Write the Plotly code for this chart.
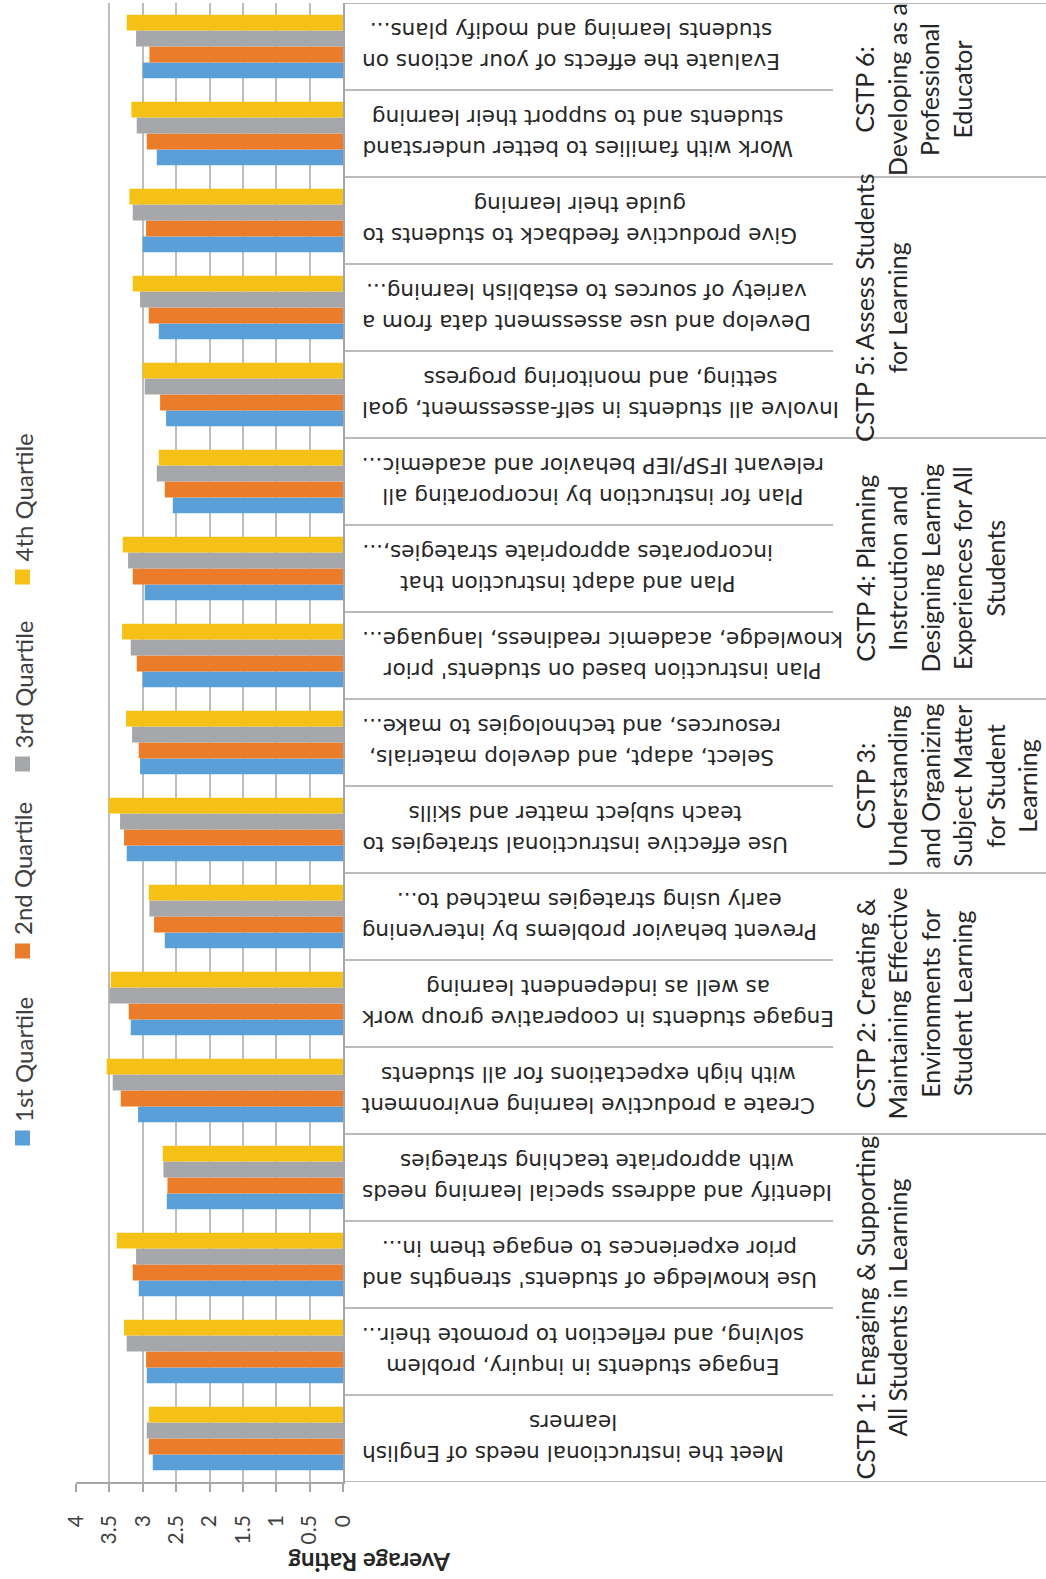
import plotly.graph_objects as go

# Teaching standards survey: average rating per criterion, split by quartile.
# Criteria listed bottom-to-top as they appear along the category axis.
criteria = [
    "Meet the instructional needs of English<br>learners",
    "Engage students in inquiry, problem<br>solving, and reflection to promote their...",
    "Use knowledge of students' strengths and<br>prior experiences to engage them in...",
    "Identify and address special learning needs<br>with appropriate teaching strategies",
    "Create a productive learning environment<br>with high expectations for all students",
    "Engage students in cooperative group work<br>as well as independent learning",
    "Prevent behavior problems by intervening<br>early using strategies matched to...",
    "Use effective instructional strategies to<br>teach subject matter and skills",
    "Select, adapt, and develop materials,<br>resources, and technologies to make...",
    "Plan instruction based on students' prior<br>knowledge, academic readiness, language...",
    "Plan and adapt instruction that<br>incorporates appropriate strategies,...",
    "Plan for instruction by incorporating all<br>relevant IFSP/IEP behavior and academic...",
    "Involve all students in self-assessment, goal<br>setting, and monitoring progress",
    "Develop and use assessment data from a<br>variety of sources to establish learning...",
    "Give productive feedback to students to<br>guide their learning",
    "Work with families to better understand<br>students and to support their learning",
    "Evaluate the effects of your actions on<br>students learning and modify plans...",
]

q1 = [2.85, 2.94, 3.06, 2.64, 3.07, 3.18, 2.67, 3.24, 3.04, 3.00, 2.97, 2.55, 2.65, 2.76, 3.00, 2.79, 3.00]
q2 = [2.91, 2.95, 3.15, 2.63, 3.33, 3.21, 2.83, 3.28, 3.06, 3.09, 3.15, 2.67, 2.74, 2.91, 2.95, 2.94, 2.90]
q3 = [2.94, 3.24, 3.10, 2.69, 3.45, 3.50, 2.90, 3.34, 3.16, 3.18, 3.22, 2.79, 2.97, 3.04, 3.15, 3.09, 3.10]
q4 = [2.91, 3.28, 3.39, 2.70, 3.54, 3.48, 2.91, 3.51, 3.25, 3.31, 3.30, 2.76, 3.00, 3.15, 3.20, 3.17, 3.24]

series_names = ["1st Quartile", "2nd Quartile", "3rd Quartile", "4th Quartile"]
series_colors = ["#5B9FD8", "#EB7D2A", "#A6A7AB", "#F6C116"]

standards = [
    "CSTP 1: Engaging & Supporting<br>All Students in Learning",
    "CSTP 2: Creating &<br>Maintaining Effective<br>Environments for<br>Student Learning",
    "CSTP 3:<br>Understanding<br>and Organizing<br>Subject Matter<br>for Student<br>Learning",
    "CSTP 4: Planning<br>Instrcution and<br>Designing Learning<br>Experiences for All<br>Students",
    "CSTP 5: Assess Students<br>for Learning",
    "CSTP 6:<br>Developing as a<br>Professional<br>Educator",
]
standard_sizes = [4, 3, 2, 3, 3, 2]

tick_vals = [0, 0.5, 1, 1.5, 2, 2.5, 3, 3.5, 4]
tick_text = ["0", "0.5", "1", "1.5", "2", "2.5", "3", "3.5", "4"]

axis_title = "Average Rating"

# ---- page geometry (pixels) ----
W, H = 1046, 1579
PLOT_L, PLOT_R, PLOT_T, PLOT_B = 76, 343, 3, 1482
ROW_TEXT_X = 360          # left edge of the criterion text blocks
ROW_LINE_END = 833        # right end of criterion separators
GROUP_TEXT_X = 847        # left edge of the standard text blocks
LINE_COLOR = "#A6A6A6"
TEXT_COLOR = "#262626"


def fx(p):
    return p / W


def fy(p):
    return 1 - p / H


fig = go.Figure()

for name, vals, color in zip(series_names, [q1, q2, q3, q4], series_colors):
    fig.add_trace(go.Bar(
        y=criteria, x=vals, orientation="h", name=name,
        marker=dict(color=color, line=dict(width=0)),
        showlegend=False, hoverinfo="x+name",
    ))

annotations = []
shapes = []

# criterion labels (upside-down, two centred lines)
for i, lab in enumerate(criteria):
    lines = lab.split("<br>")
    txt = "<br>".join(f"<span style='font-size:21.6px'>{ln}</span>" for ln in lines)
    annotations.append(dict(
        text=txt, x=fx(ROW_TEXT_X), xref="paper", y=i, yref="y",
        xanchor="left", yanchor="middle", textangle=180, align="center",
        showarrow=False, font=dict(family="DejaVu Sans", size=24, color=TEXT_COLOR),
    ))

# separators between criteria and between standards
group_bounds = []
acc = 0
for s in standard_sizes:
    acc += s
    group_bounds.append(acc - 0.5)
for k in range(len(criteria) - 1):
    yb = k + 0.5
    x_end = W if yb in group_bounds else ROW_LINE_END
    shapes.append(dict(type="line", xref="paper", yref="y", x0=fx(PLOT_R), x1=fx(x_end),
                       y0=yb, y1=yb, line=dict(color=LINE_COLOR, width=1.5)))
for yb in (-0.5, len(criteria) - 0.5):
    shapes.append(dict(type="line", xref="paper", yref="y", x0=fx(PLOT_R), x1=1,
                       y0=yb, y1=yb, line=dict(color=LINE_COLOR, width=1.5)))

# standard labels (rotated, centred on their block of criteria)
start = 0
for lab, n in zip(standards, standard_sizes):
    yc = start + (n - 1) / 2
    annotations.append(dict(
        text=lab, x=fx(GROUP_TEXT_X), xref="paper", y=yc, yref="y",
        xanchor="left", yanchor="middle", textangle=-90, align="center",
        showarrow=False, font=dict(family="Lato", size=25, color=TEXT_COLOR),
    ))
    start += n

# legend drawn as rotated entries down the left edge
LEG_Y0, LEG_STEP, SW = 1138, -187, 15
for k, (name, color) in enumerate(zip(series_names, series_colors)):
    yc = LEG_Y0 + k * LEG_STEP
    shapes.append(dict(type="rect", xref="paper", yref="paper",
                       x0=fx(15), x1=fx(15 + SW), y0=fy(yc + SW / 2), y1=fy(yc - SW / 2),
                       fillcolor=color, line=dict(width=0)))
    annotations.append(dict(
        text=name, x=fx(23), xref="paper", y=fy(yc - SW / 2 - 6), yref="paper",
        xanchor="center", yanchor="bottom", textangle=-90, showarrow=False,
        font=dict(family="Lato", size=24, color="#404040"),
    ))

# value axis title
annotations.append(dict(
    text=axis_title, x=fx(370), xref="paper", y=fy(1563), yref="paper",
    xanchor="center", yanchor="middle", textangle=180, showarrow=False,
    font=dict(family="Lato", size=24, color=TEXT_COLOR, weight=700),
))

fig.update_layout(
    width=W, height=H,
    margin=dict(l=0, r=0, t=0, b=0, autoexpand=False),
    paper_bgcolor="white", plot_bgcolor="white",
    barmode="group", bargap=0.268, bargroupgap=0,
    showlegend=False,
    annotations=annotations, shapes=shapes,
    xaxis=dict(
        domain=[fx(PLOT_L), fx(PLOT_R)], range=[4, 0], automargin=False,
        tickmode="array", tickvals=tick_vals, ticktext=tick_text,
        tickangle=-90, tickfont=dict(family="Lato", size=21, color="#404040"),
        ticks="outside", ticklen=8, tickcolor=LINE_COLOR, tickwidth=1.5,
        ticklabelstandoff=15,
        showgrid=True, gridcolor="#BDBDBD", gridwidth=2,
        zeroline=False, showline=True, linecolor=LINE_COLOR, linewidth=1.5,
    ),
    yaxis=dict(
        domain=[fy(PLOT_B), fy(PLOT_T)], type="category", automargin=False,
        categoryorder="array", categoryarray=criteria,
        range=[-0.5, len(criteria) - 0.5], side="right",
        showticklabels=False, showgrid=False, zeroline=False,
        showline=True, linecolor=LINE_COLOR, linewidth=1.5,
    ),
)

fig.write_html("out.html")
